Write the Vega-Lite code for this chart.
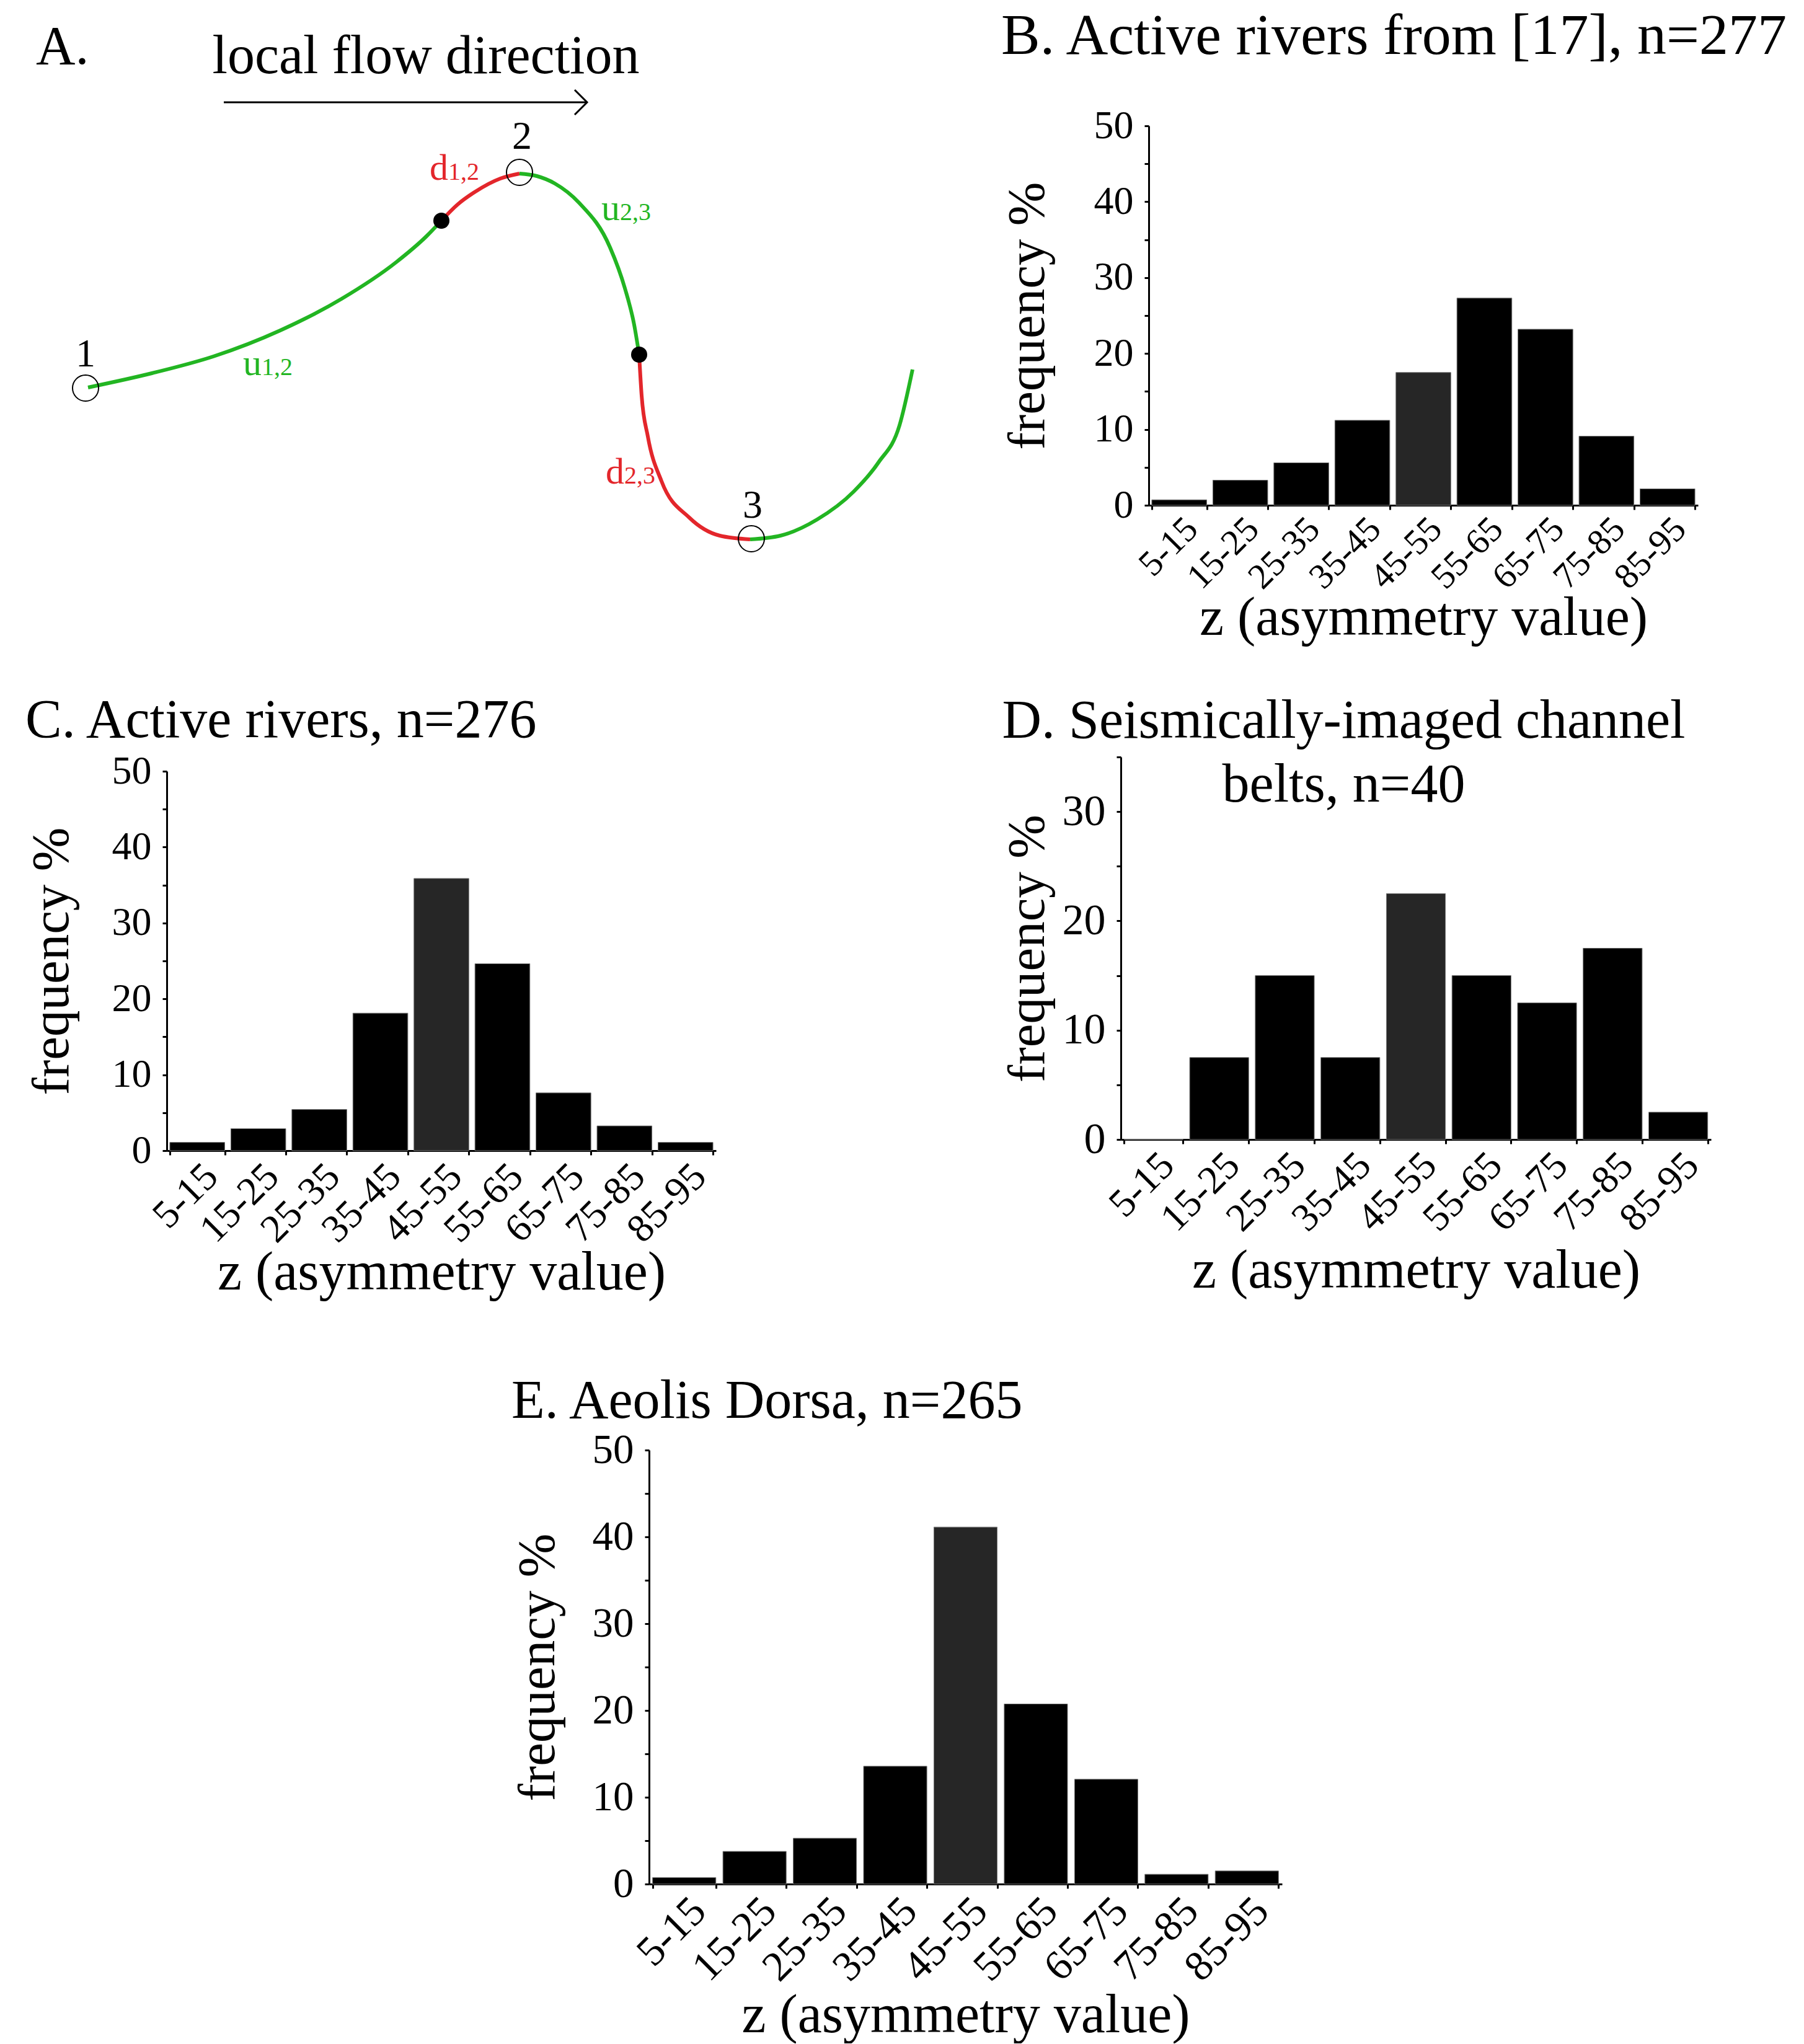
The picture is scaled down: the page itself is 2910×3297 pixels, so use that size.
{
  "$schema": "https://vega.github.io/schema/vega-lite/v6.json",
  "padding": {"left": 41, "top": 12, "right": 0, "bottom": 0},
  "config": {
    "font": "Liberation Serif",
    "view": {"stroke": null},
    "title": {"font": "Liberation Serif", "fontSize": 88, "fontWeight": "normal", "color": "#000000", "anchor": "start", "frame": "bounds"},
    "axis": {
      "labelFont": "Liberation Serif", "labelFontSize": 64, "labelColor": "#000000",
      "titleFont": "Liberation Serif", "titleFontSize": 85, "titleFontWeight": "normal", "titleColor": "#000000",
      "domainColor": "#000000", "domainWidth": 3, "tickColor": "#000000", "tickWidth": 3, "tickSize": 7,
      "grid": false, "labelPadding": 18
    },
    "axisX": {"labelAngle": -45, "labelAlign": "right", "labelBaseline": "top", "labelPadding": 2, "titleFontSize": 88}
  },
  "datasets": {
    "hist": [
      {"panel": "B", "bin": "5-15", "freq": 0.72},
      {"panel": "B", "bin": "15-25", "freq": 3.3},
      {"panel": "B", "bin": "25-35", "freq": 5.6},
      {"panel": "B", "bin": "35-45", "freq": 11.2},
      {"panel": "B", "bin": "45-55", "freq": 17.5},
      {"panel": "B", "bin": "55-65", "freq": 27.3},
      {"panel": "B", "bin": "65-75", "freq": 23.2},
      {"panel": "B", "bin": "75-85", "freq": 9.1},
      {"panel": "B", "bin": "85-95", "freq": 2.17},
      {"panel": "C", "bin": "5-15", "freq": 1.09},
      {"panel": "C", "bin": "15-25", "freq": 2.9},
      {"panel": "C", "bin": "25-35", "freq": 5.43},
      {"panel": "C", "bin": "35-45", "freq": 18.12},
      {"panel": "C", "bin": "45-55", "freq": 35.87},
      {"panel": "C", "bin": "55-65", "freq": 24.64},
      {"panel": "C", "bin": "65-75", "freq": 7.61},
      {"panel": "C", "bin": "75-85", "freq": 3.26},
      {"panel": "C", "bin": "85-95", "freq": 1.09},
      {"panel": "D", "bin": "5-15", "freq": 0},
      {"panel": "D", "bin": "15-25", "freq": 7.5},
      {"panel": "D", "bin": "25-35", "freq": 15},
      {"panel": "D", "bin": "35-45", "freq": 7.5},
      {"panel": "D", "bin": "45-55", "freq": 22.5},
      {"panel": "D", "bin": "55-65", "freq": 15},
      {"panel": "D", "bin": "65-75", "freq": 12.5},
      {"panel": "D", "bin": "75-85", "freq": 17.5},
      {"panel": "D", "bin": "85-95", "freq": 2.5},
      {"panel": "E", "bin": "5-15", "freq": 0.75},
      {"panel": "E", "bin": "15-25", "freq": 3.77},
      {"panel": "E", "bin": "25-35", "freq": 5.28},
      {"panel": "E", "bin": "35-45", "freq": 13.58},
      {"panel": "E", "bin": "45-55", "freq": 41.13},
      {"panel": "E", "bin": "55-65", "freq": 20.75},
      {"panel": "E", "bin": "65-75", "freq": 12.08},
      {"panel": "E", "bin": "75-85", "freq": 1.13},
      {"panel": "E", "bin": "85-95", "freq": 1.51}
    ],
    "curve": [
      {"seg": "g1", "kind": "u", "i": 0, "x": 14.3, "y": 62.3},
      {"seg": "g1", "kind": "u", "i": 1, "x": 24.6, "y": 60.0},
      {"seg": "g1", "kind": "u", "i": 2, "x": 34.5, "y": 57.3},
      {"seg": "g1", "kind": "u", "i": 3, "x": 45.3, "y": 53.1},
      {"seg": "g1", "kind": "u", "i": 4, "x": 55.2, "y": 48.0},
      {"seg": "g1", "kind": "u", "i": 5, "x": 64.0, "y": 42.1},
      {"seg": "g1", "kind": "u", "i": 6, "x": 68.9, "y": 37.9},
      {"seg": "g1", "kind": "u", "i": 7, "x": 71.3, "y": 35.4},
      {"seg": "r1", "kind": "d", "i": 0, "x": 71.3, "y": 35.4},
      {"seg": "r1", "kind": "d", "i": 1, "x": 73.9, "y": 32.8},
      {"seg": "r1", "kind": "d", "i": 2, "x": 76.8, "y": 30.7},
      {"seg": "r1", "kind": "d", "i": 3, "x": 80.8, "y": 28.6},
      {"seg": "r1", "kind": "d", "i": 4, "x": 83.9, "y": 27.8},
      {"seg": "g2", "kind": "u", "i": 0, "x": 83.9, "y": 27.8},
      {"seg": "g2", "kind": "u", "i": 1, "x": 86.7, "y": 28.2},
      {"seg": "g2", "kind": "u", "i": 2, "x": 89.6, "y": 29.4},
      {"seg": "g2", "kind": "u", "i": 3, "x": 93.5, "y": 32.5},
      {"seg": "g2", "kind": "u", "i": 4, "x": 98.5, "y": 39.7},
      {"seg": "g2", "kind": "u", "i": 5, "x": 100.9, "y": 46.3},
      {"seg": "g2", "kind": "u", "i": 6, "x": 102.4, "y": 52.2},
      {"seg": "g2", "kind": "u", "i": 7, "x": 103.2, "y": 57.0},
      {"seg": "r2", "kind": "d", "i": 0, "x": 103.2, "y": 57.0},
      {"seg": "r2", "kind": "d", "i": 1, "x": 103.6, "y": 63.6},
      {"seg": "r2", "kind": "d", "i": 2, "x": 104.6, "y": 70.2},
      {"seg": "r2", "kind": "d", "i": 3, "x": 106.8, "y": 77.4},
      {"seg": "r2", "kind": "d", "i": 4, "x": 111.3, "y": 83.3},
      {"seg": "r2", "kind": "d", "i": 5, "x": 116.2, "y": 86.2},
      {"seg": "r2", "kind": "d", "i": 6, "x": 121.1, "y": 86.8},
      {"seg": "g3", "kind": "u", "i": 0, "x": 121.1, "y": 86.8},
      {"seg": "g3", "kind": "u", "i": 1, "x": 126.0, "y": 86.2},
      {"seg": "g3", "kind": "u", "i": 2, "x": 131.9, "y": 83.6},
      {"seg": "g3", "kind": "u", "i": 3, "x": 137.8, "y": 79.1},
      {"seg": "g3", "kind": "u", "i": 4, "x": 141.8, "y": 74.4},
      {"seg": "g3", "kind": "u", "i": 5, "x": 145.2, "y": 68.4},
      {"seg": "g3", "kind": "u", "i": 6, "x": 147.3, "y": 59.4}
    ],
    "nodes": [
      {"type": "open", "x": 13.9, "y": 62.4},
      {"type": "open", "x": 83.9, "y": 27.6},
      {"type": "open", "x": 121.3, "y": 86.7},
      {"type": "dot", "x": 71.3, "y": 35.4},
      {"type": "dot", "x": 103.2, "y": 57.0}
    ],
    "arrow": [
      {"x": 36.2, "x2": 94.8, "y": 16.3}
    ],
    "arrowhead": [
      {"i": 0, "x": 92.8, "y": 14.3},
      {"i": 1, "x": 94.8, "y": 16.3},
      {"i": 2, "x": 92.8, "y": 18.3}
    ],
    "labels": [
      {"role": "panel", "text": "A.", "kind": "k", "x": 5.9, "y": 10.1},
      {"role": "heading", "text": "local flow direction", "kind": "k", "x": 68.8, "y": 11.6},
      {"role": "num", "text": "1", "kind": "k", "x": 13.9, "y": 57.0},
      {"role": "num", "text": "2", "kind": "k", "x": 84.3, "y": 21.9},
      {"role": "num", "text": "3", "kind": "k", "x": 121.5, "y": 81.4},
      {"role": "var", "text": "u", "kind": "u", "x": 39.3, "y": 60.3},
      {"role": "sub", "text": "1,2", "kind": "u", "x": 42.3, "y": 60.3},
      {"role": "var", "text": "d", "kind": "d", "x": 69.4, "y": 28.8},
      {"role": "sub", "text": "1,2", "kind": "d", "x": 72.4, "y": 28.8},
      {"role": "var", "text": "u", "kind": "u", "x": 97.1, "y": 35.3},
      {"role": "sub", "text": "2,3", "kind": "u", "x": 100.1, "y": 35.3},
      {"role": "var", "text": "d", "kind": "d", "x": 97.8, "y": 77.8},
      {"role": "sub", "text": "2,3", "kind": "d", "x": 100.8, "y": 77.8}
    ]
  },
  "spacing": 119,
  "vconcat": [
    {
      "columns": 2,
      "align": "none",
      "spacing": {"row": 77, "column": 116},
      "concat": [
        {
          "width": 1230,
          "height": 827,
          "encoding": {
            "x": {"field": "x", "type": "quantitative", "scale": {"domain": [27.0, 150.0], "nice": false, "zero": false}, "axis": null},
            "y": {"field": "y", "type": "quantitative", "scale": {"domain": [20.1, 102.8], "nice": false, "zero": false, "reverse": true}, "axis": null}
          },
          "layer": [
            {"data": {"name": "arrow"}, "mark": {"type": "rule", "strokeWidth": 3, "color": "#000000"}, "encoding": {"x2": {"field": "x2"}}},
            {"data": {"name": "arrowhead"}, "mark": {"type": "line", "strokeWidth": 3, "color": "#000000"}, "encoding": {"order": {"field": "i", "type": "quantitative"}}},
            {"data": {"name": "curve"}, "mark": {"type": "line", "strokeWidth": 6, "interpolate": "monotone"},
             "encoding": {"detail": {"field": "seg", "type": "nominal"}, "order": {"field": "i", "type": "quantitative"},
               "color": {"field": "kind", "type": "nominal", "scale": {"domain": ["u", "d"], "range": ["#22b522", "#e3262b"]}, "legend": null}}},
            {"data": {"name": "nodes"}, "transform": [{"filter": "datum.type === 'open'"}], "mark": {"type": "point", "shape": "circle", "size": 1764, "filled": false, "stroke": "#000000", "strokeWidth": 2, "opacity": 1}},
            {"data": {"name": "nodes"}, "transform": [{"filter": "datum.type === 'dot'"}], "mark": {"type": "point", "shape": "circle", "size": 676, "filled": true, "color": "#000000", "opacity": 1}},
            {"data": {"name": "labels"}, "transform": [{"filter": "datum.role === 'panel'"}], "mark": {"type": "text", "align": "left", "baseline": "alphabetic", "fontSize": 88, "color": "#000000"}, "encoding": {"text": {"field": "text"}}},
            {"data": {"name": "labels"}, "transform": [{"filter": "datum.role === 'heading'"}], "mark": {"type": "text", "align": "center", "baseline": "alphabetic", "fontSize": 88, "color": "#000000"}, "encoding": {"text": {"field": "text"}}},
            {"data": {"name": "labels"}, "transform": [{"filter": "datum.role === 'num'"}], "mark": {"type": "text", "align": "center", "baseline": "middle", "fontSize": 64, "color": "#000000"}, "encoding": {"text": {"field": "text"}}},
            {"data": {"name": "labels"}, "transform": [{"filter": "datum.role === 'var'"}], "mark": {"type": "text", "align": "left", "baseline": "alphabetic", "fontSize": 60},
             "encoding": {"text": {"field": "text"}, "color": {"field": "kind", "type": "nominal", "scale": {"domain": ["u", "d"], "range": ["#22b522", "#e3262b"]}, "legend": null}}},
            {"data": {"name": "labels"}, "transform": [{"filter": "datum.role === 'sub'"}], "mark": {"type": "text", "align": "left", "baseline": "alphabetic", "fontSize": 40},
             "encoding": {"text": {"field": "text"}, "color": {"field": "kind", "type": "nominal", "scale": {"domain": ["u", "d"], "range": ["#22b522", "#e3262b"]}, "legend": null}}}
          ]
        },
        {
          "width": 886,
          "height": 612,
          "title": {"text": "B. Active rivers from [17], n=277", "fontSize": 94, "offset": 64},
          "data": {"name": "hist"},
          "transform": [{"filter": "datum.panel === 'B'"}],
          "mark": {"type": "bar", "stroke": "#7a7a7a", "strokeWidth": 1},
          "encoding": {
            "x": {"field": "bin", "type": "ordinal", "sort": null, "scale": {"paddingInner": 0.1, "paddingOuter": 0.05},
                  "axis": {"title": "z (asymmetry value)", "tickBand": "extent", "labelFontSize": 58, "titlePadding": -7}},
            "y": {"field": "freq", "type": "quantitative", "scale": {"domain": [0, 50], "nice": false},
                  "axis": {"title": "frequency %", "values": [0, 5, 10, 15, 20, 25, 30, 35, 40, 45, 50], "labelExpr": "datum.value % 10 === 0 ? datum.label : ''", "titlePadding": 63}},
            "color": {"condition": {"test": "datum.bin === '45-55'", "value": "#262626"}, "value": "#000000"}
          }
        },
        {
          "width": 886,
          "height": 612,
          "title": {"text": "C. Active rivers, n=276", "offset": 5},
          "data": {"name": "hist"},
          "transform": [{"filter": "datum.panel === 'C'"}],
          "mark": {"type": "bar", "stroke": "#7a7a7a", "strokeWidth": 1},
          "encoding": {
            "x": {"field": "bin", "type": "ordinal", "sort": null, "scale": {"paddingInner": 0.1, "paddingOuter": 0.05},
                  "axis": {"title": "z (asymmetry value)", "tickBand": "extent", "titlePadding": -6}},
            "y": {"field": "freq", "type": "quantitative", "scale": {"domain": [0, 50], "nice": false},
                  "axis": {"title": "frequency %", "values": [0, 5, 10, 15, 20, 25, 30, 35, 40, 45, 50], "labelExpr": "datum.value % 10 === 0 ? datum.label : ''", "titlePadding": 53}},
            "color": {"condition": {"test": "datum.bin === '45-55'", "value": "#262626"}, "value": "#000000"}
          }
        },
        {
          "width": 952,
          "height": 617,
          "title": {"text": ["D. Seismically-imaged channel", "belts, n=40"], "anchor": "middle", "lineHeight": 103, "dx": -20, "offset": -91},
          "data": {"name": "hist"},
          "transform": [{"filter": "datum.panel === 'D'"}],
          "mark": {"type": "bar", "stroke": "#7a7a7a", "strokeWidth": 1},
          "encoding": {
            "x": {"field": "bin", "type": "ordinal", "sort": null, "scale": {"paddingInner": 0.1, "paddingOuter": 0.05},
                  "axis": {"title": "z (asymmetry value)", "tickBand": "extent", "titlePadding": 9}},
            "y": {"field": "freq", "type": "quantitative", "scale": {"domain": [0, 35], "nice": false},
                  "axis": {"title": "frequency %", "values": [0, 5, 10, 15, 20, 25, 30, 35], "labelExpr": "datum.value % 10 === 0 ? datum.label : ''", "labelFontSize": 70, "titlePadding": 12}},
            "color": {"condition": {"test": "datum.bin === '45-55'", "value": "#262626"}, "value": "#000000"}
          }
        }
      ]
    },
    {
      "spacing": 51,
      "hconcat": [
        {"width": 505, "height": 10, "data": {"values": []}, "mark": "point"},
        {
          "width": 1021,
          "height": 700,
          "title": {"text": "E. Aeolis Dorsa, n=265", "offset": 0},
          "data": {"name": "hist"},
          "transform": [{"filter": "datum.panel === 'E'"}],
          "mark": {"type": "bar", "stroke": "#7a7a7a", "strokeWidth": 1},
          "encoding": {
            "x": {"field": "bin", "type": "ordinal", "sort": null, "scale": {"paddingInner": 0.1, "paddingOuter": 0.05},
                  "axis": {"title": "z (asymmetry value)", "tickBand": "extent", "labelFontSize": 68, "titlePadding": -1}},
            "y": {"field": "freq", "type": "quantitative", "scale": {"domain": [0, 50], "nice": false},
                  "axis": {"title": "frequency %", "values": [0, 5, 10, 15, 20, 25, 30, 35, 40, 45, 50], "labelExpr": "datum.value % 10 === 0 ? datum.label : ''", "labelFontSize": 67, "titlePadding": 44}},
            "color": {"condition": {"test": "datum.bin === '45-55'", "value": "#262626"}, "value": "#000000"}
          }
        }
      ]
    }
  ]
}
